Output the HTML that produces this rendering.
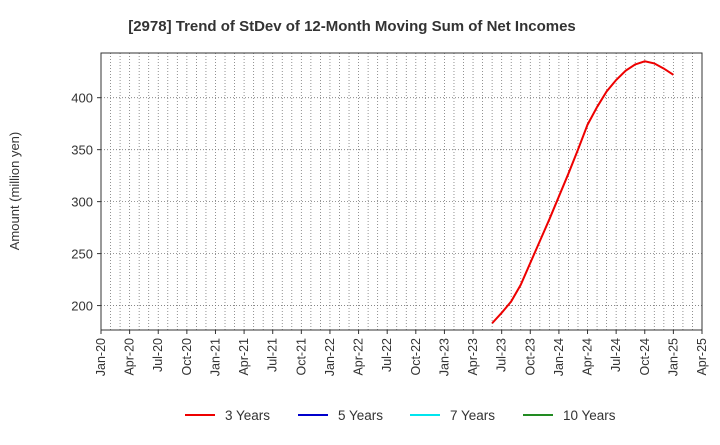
<!DOCTYPE html>
<html><head><meta charset="utf-8"><style>
body{margin:0;background:#fff;font-family:"Liberation Sans",sans-serif;}
svg text{font-family:"Liberation Sans",sans-serif;}
</style></head><body>
<svg id="chart" width="720" height="440">
<text x="352" y="31" text-anchor="middle" font-size="15" font-weight="bold" fill="#333">[2978]  Trend of StDev of 12-Month Moving Sum of Net Incomes</text>
<text transform="translate(19,191) rotate(-90)" text-anchor="middle" font-size="13" fill="#333">Amount (million yen)</text>
<g id="grid"></g><g id="axes"></g><g id="series"></g>
<g>
<g><line x1="185" y1="415" x2="215" y2="415" stroke="#e00" stroke-width="2"/><text x="225" y="420" font-size="13.5" fill="#333">3 Years</text></g>
<g><line x1="298" y1="415" x2="328" y2="415" stroke="#0000cc" stroke-width="2"/><text x="338" y="420" font-size="13.5" fill="#333">5 Years</text></g>
<g><line x1="410" y1="415" x2="440" y2="415" stroke="#00e5ee" stroke-width="2"/><text x="450" y="420" font-size="13.5" fill="#333">7 Years</text></g>
<g><line x1="523" y1="415" x2="553" y2="415" stroke="#228b22" stroke-width="2"/><text x="563" y="420" font-size="13.5" fill="#333">10 Years</text></g>
</g>
</svg>
<script>
const xLabels=["Jan-20","Apr-20","Jul-20","Oct-20","Jan-21","Apr-21","Jul-21","Oct-21","Jan-22","Apr-22","Jul-22","Oct-22","Jan-23","Apr-23","Jul-23","Oct-23","Jan-24","Apr-24","Jul-24","Oct-24","Jan-25","Apr-25"];
const yTicks=[200,250,300,350,400];
const startMonth=41; // Jun-23 index from Jan-20
const values3y=[183,193,204,220,241,262,283,305,327,350,374,391,406,417,426,432,435,433,428,422];
const L=101,R=702,T=53,B=330,ymin=176.5,ymax=443;
const NM=63;
const xs=m=>L+(R-L)*m/NM;
const ys=v=>B-(v-ymin)/(ymax-ymin)*(B-T);
const ns="http://www.w3.org/2000/svg";
function mk(t,a,p){const e=document.createElementNS(ns,t);for(const k in a)e.setAttribute(k,a[k]);p.appendChild(e);return e;}
const grid=document.getElementById('grid'),axes=document.getElementById('axes'),series=document.getElementById('series');
for(let m=1;m<NM;m++){const g=mk('line',{x1:xs(m),x2:xs(m),y1:T,y2:B,stroke:'#777','stroke-width':0.8,'stroke-dasharray':'1,2'},grid);

}
yTicks.forEach(v=>{const g=mk('line',{x1:L,x2:R,y1:ys(v),y2:ys(v),stroke:'#777','stroke-width':0.8,'stroke-dasharray':'1,2'},grid);


const t=mk('text',{x:L-8,y:ys(v)+5,'text-anchor':'end','font-size':13,fill:'#333'},axes);t.textContent=v;


mk('line',{x1:L-4,x2:L,y1:ys(v),y2:ys(v),stroke:'#333'},axes);});
const fr=mk('rect',{x:L,y:T,width:R-L,height:B-T,fill:'none',stroke:'#333','stroke-width':1},axes);


xLabels.forEach((s,i)=>{const x=xs(i*3);mk('line',{x1:x,x2:x,y1:B,y2:B+4,stroke:'#333'},axes);
const t=mk('text',{transform:`translate(${x+4},${B+8}) rotate(-90)`,'text-anchor':'end','font-size':12.5,fill:'#333'},axes);t.textContent=s;

});
const pts=values3y.map((v,i)=>xs(startMonth+i)+','+ys(v)).join(' ');
const pl=mk('polyline',{points:pts,fill:'none',stroke:'#e00','stroke-width':2},series);


</script>
</body></html>
